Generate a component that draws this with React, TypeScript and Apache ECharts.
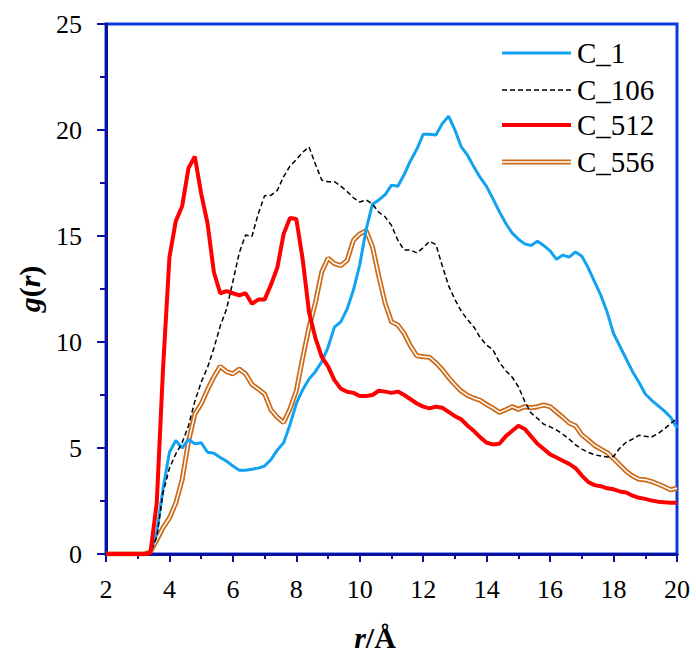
import React, { useEffect, useRef } from "react";
import * as echarts from "echarts";

// Radial distance grid (Å)
const R = [
  2.0, 2.2, 2.4, 2.6, 2.8, 3.0, 3.2, 3.4, 3.6, 3.8,
  4.0, 4.2, 4.4, 4.6, 4.8, 5.0, 5.2, 5.4, 5.6, 5.8,
  6.0, 6.2, 6.4, 6.6, 6.8, 7.0, 7.2, 7.4, 7.6, 7.8,
  8.0, 8.2, 8.4, 8.6, 8.8, 9.0, 9.2, 9.4, 9.6, 9.8,
  10.0, 10.2, 10.4, 10.6, 10.8, 11.0, 11.2, 11.4, 11.6, 11.8,
  12.0, 12.2, 12.4, 12.6, 12.8, 13.0, 13.2, 13.4, 13.6, 13.8,
  14.0, 14.2, 14.4, 14.6, 14.8, 15.0, 15.2, 15.4, 15.6, 15.8,
  16.0, 16.2, 16.4, 16.6, 16.8, 17.0, 17.2, 17.4, 17.6, 17.8,
  18.0, 18.2, 18.4, 18.6, 18.8, 19.0, 19.2, 19.4, 19.6, 19.8,
  20.0,
];

const C_1 = [
  0, 0, 0, 0, 0, 0, 0, 0.05, 1.0, 3.1,
  4.8, 5.35, 5.0, 5.4, 5.2, 5.25, 4.8, 4.75, 4.55, 4.38,
  4.15, 3.95, 3.95, 4.0, 4.05, 4.15, 4.45, 4.9, 5.25, 6.1,
  7.1, 7.75, 8.25, 8.6, 9.07, 9.75, 10.7, 10.95, 11.55, 12.45,
  13.65, 15.3, 16.5, 16.7, 16.95, 17.4, 17.35, 17.9, 18.55, 19.1,
  19.8, 19.8, 19.76, 20.3, 20.65, 20.0, 19.2, 18.8, 18.25, 17.75,
  17.33, 16.75, 16.15, 15.6, 15.15, 14.85, 14.63, 14.55, 14.75, 14.55,
  14.3, 13.9, 14.1, 14.0, 14.25, 14.05, 13.5, 12.85, 12.2, 11.4,
  10.4, 9.8, 9.2, 8.6, 8.1, 7.55, 7.25, 7.0, 6.75, 6.45,
  5.95,
];

const C_106 = [
  0, 0, 0, 0, 0, 0, 0, 0.05, 0.8, 2.9,
  4.05, 4.72, 5.25, 6.05, 7.2, 8.1, 8.8, 9.7, 10.75, 11.55,
  12.85, 14.2, 15.05, 14.98, 16.05, 16.9, 16.92, 17.15, 17.8, 18.3,
  18.6, 18.95, 19.2, 18.4, 17.64, 17.56, 17.56, 17.35, 17.1, 16.8,
  16.6, 16.7, 16.5, 16.12, 15.9, 15.5, 14.8, 14.34, 14.34, 14.2,
  14.45, 14.75, 14.6, 13.6, 12.65, 12.0, 11.45, 11.05, 10.7, 10.2,
  9.85, 9.63, 9.05, 8.65, 8.35, 7.89, 7.2, 6.65, 6.4, 6.12,
  6.0, 5.85, 5.65, 5.42, 5.15, 4.95, 4.8, 4.68, 4.62, 4.58,
  4.6, 5.0, 5.27, 5.42, 5.6, 5.55, 5.52, 5.68, 5.9, 6.15,
  6.4,
];

const C_512 = [
  0, 0, 0, 0, 0, 0, 0, 0.05, 2.4, 8.8,
  14.0, 15.7, 16.4, 18.2, 18.75, 17.0, 15.6, 13.3, 12.3, 12.4,
  12.3, 12.2, 12.3, 11.8, 12.0, 12.0, 12.7, 13.5, 15.1, 15.85,
  15.8, 13.9, 11.4, 10.2, 9.3, 8.85, 8.2, 7.8, 7.65, 7.6,
  7.45, 7.45, 7.5, 7.7, 7.66, 7.6, 7.66, 7.5, 7.3, 7.1,
  6.95, 6.87, 6.95, 6.9, 6.7, 6.5, 6.35, 6.05, 5.8, 5.5,
  5.25, 5.17, 5.2, 5.55, 5.8, 6.05, 5.9, 5.55, 5.2, 4.95,
  4.7, 4.55, 4.4, 4.25, 4.05, 3.7, 3.4, 3.25, 3.2, 3.1,
  3.05, 2.95, 2.9, 2.75, 2.65, 2.6, 2.52, 2.47, 2.44, 2.42,
  2.42,
];

const C_556 = [
  0, 0, 0, 0, 0, 0, 0, 0.1, 0.66, 1.25,
  1.7, 2.4, 3.5, 5.3, 6.6, 7.08, 7.75, 8.35, 8.85, 8.6,
  8.5, 8.72, 8.5, 8.0, 7.78, 7.55, 6.8, 6.45, 6.2, 6.85,
  7.7, 9.25, 10.7, 11.85, 13.3, 13.95, 13.7, 13.6, 13.85, 14.8,
  15.1, 15.25, 14.5, 13.1, 11.83, 10.95, 10.8, 10.4, 9.8, 9.35,
  9.3, 9.28, 9.02, 8.7, 8.32, 7.98, 7.68, 7.48, 7.35, 7.25,
  7.05, 6.88, 6.68, 6.8, 6.95, 6.82, 6.95, 6.9, 6.95, 7.03,
  6.95, 6.7, 6.45, 6.18, 6.05, 5.62, 5.38, 5.12, 4.95, 4.78,
  4.5, 4.2, 3.9, 3.68, 3.53, 3.5, 3.42, 3.3, 3.17, 3.03,
  3.1,
];

const SERIES_NAMES = ["C_1", "C_106", "C_512", "C_556"];

const NAVY = "#0a10a0";
const FRAME = "#0a3cdc";
const BLUE = "#12a2f2";
const RED = "#ff0000";
const ORANGE = "#cc6c1a";
const FONT = "Liberation Serif, Times New Roman, serif";

const pairs = (ys: number[]) => R.map((r, i) => [r, ys[i]]);

export default function App() {
  const ref = useRef<HTMLDivElement>(null);

  useEffect(() => {
    if (!ref.current) return;
    const chart = echarts.init(ref.current, null, { renderer: "svg" });

    const lineBase = {
      type: "line" as const,
      showSymbol: false,
      symbol: "none",
      silent: true,
    };

    // legend rows: sample line + label
    const legendY = [53, 90, 125, 162];
    const legendX0 = 502;
    const legendX1 = 571;
    const legendGraphics: any[] = [
      {
        type: "line",
        shape: { x1: legendX0, y1: legendY[0], x2: legendX1, y2: legendY[0] },
        style: { stroke: BLUE, lineWidth: 3 },
      },
      {
        type: "line",
        shape: { x1: legendX0, y1: legendY[1], x2: legendX1, y2: legendY[1] },
        style: { stroke: "#000", lineWidth: 1.5, lineDash: [5, 3] },
      },
      {
        type: "line",
        shape: { x1: legendX0, y1: legendY[2], x2: legendX1, y2: legendY[2] },
        style: { stroke: RED, lineWidth: 4 },
      },
      {
        type: "line",
        shape: { x1: legendX0, y1: legendY[3], x2: legendX1, y2: legendY[3] },
        style: { stroke: ORANGE, lineWidth: 5 },
      },
      {
        type: "line",
        shape: { x1: legendX0 - 1, y1: legendY[3], x2: legendX1 + 1, y2: legendY[3] },
        style: { stroke: "#fff", lineWidth: 1.5 },
      },
    ];
    SERIES_NAMES.forEach((name, i) => {
      legendGraphics.push({
        type: "text",
        x: 577,
        y: legendY[i],
        style: {
          text: name,
          fill: "#000",
          fontFamily: FONT,
          fontSize: 29,
          align: "left",
          verticalAlign: "middle",
        },
      });
    });

    const titleRich = {
      i: { fontFamily: FONT, fontSize: 30, fontWeight: "bold", fontStyle: "italic", fill: "#000" },
      n: { fontFamily: FONT, fontSize: 30, fontWeight: "bold", fill: "#000" },
    };

    chart.setOption({
      animation: false,
      backgroundColor: "#fff",
      textStyle: { fontFamily: FONT },
      grid: {
        left: 106,
        right: 19,
        top: 24,
        bottom: 98,
        show: true,
        borderColor: FRAME,
        borderWidth: 3,
        backgroundColor: "transparent",
      },
      xAxis: {
        type: "value",
        min: 2,
        max: 20,
        interval: 2,
        axisLine: { lineStyle: { color: NAVY, width: 3 } },
        axisTick: { inside: false, length: 8, lineStyle: { color: NAVY, width: 2 } },
        minorTick: { show: true, splitNumber: 2, length: 5, lineStyle: { color: NAVY, width: 2 } },
        splitLine: { show: false },
        minorSplitLine: { show: false },
        axisLabel: { color: "#000", fontSize: 26, fontFamily: FONT, margin: 22 },
      },
      yAxis: {
        type: "value",
        min: 0,
        max: 25,
        interval: 5,
        axisLine: { show: true, lineStyle: { color: NAVY, width: 3 } },
        axisTick: { show: true, inside: false, length: 9, lineStyle: { color: NAVY, width: 2 } },
        minorTick: { show: true, splitNumber: 2, length: 6, lineStyle: { color: NAVY, width: 2 } },
        splitLine: { show: false },
        minorSplitLine: { show: false },
        axisLabel: { color: "#000", fontSize: 26, fontFamily: FONT, margin: 24 },
      },
      series: [
        {
          ...lineBase,
          name: "C_556",
          data: pairs(C_556),
          lineStyle: { color: ORANGE, width: 5 },
          z: 2,
        },
        {
          ...lineBase,
          name: "C_556 core",
          data: pairs(C_556),
          lineStyle: { color: "#fff", width: 1.5 },
          z: 3,
        },
        {
          ...lineBase,
          name: "C_1",
          data: pairs(C_1),
          lineStyle: { color: BLUE, width: 3 },
          z: 4,
        },
        {
          ...lineBase,
          name: "C_106",
          data: pairs(C_106),
          lineStyle: { color: "#000", width: 1.5, type: [5, 3] },
          z: 5,
        },
        {
          ...lineBase,
          name: "C_512",
          data: pairs(C_512),
          lineStyle: { color: RED, width: 4 },
          z: 6,
        },
      ],
      graphic: [
        ...legendGraphics,
        {
          type: "text",
          x: 29,
          y: 289,
          rotation: Math.PI / 2,
          style: {
            text: "{i|g}{n|(}{i|r}{n|)}",
            align: "center",
            verticalAlign: "middle",
            fill: "#000",
            fontFamily: FONT,
            rich: titleRich,
          },
        },
        {
          type: "text",
          x: 375,
          y: 637,
          style: {
            text: "{i|r}{n|/Å}",
            align: "center",
            verticalAlign: "middle",
            fill: "#000",
            fontFamily: FONT,
            rich: titleRich,
          },
        },
      ],
    });

    return () => chart.dispose();
  }, []);

  return (
    <div
      ref={ref}
      style={{ position: "absolute", left: 0, top: 0, width: 696, height: 652 }}
    />
  );
}
